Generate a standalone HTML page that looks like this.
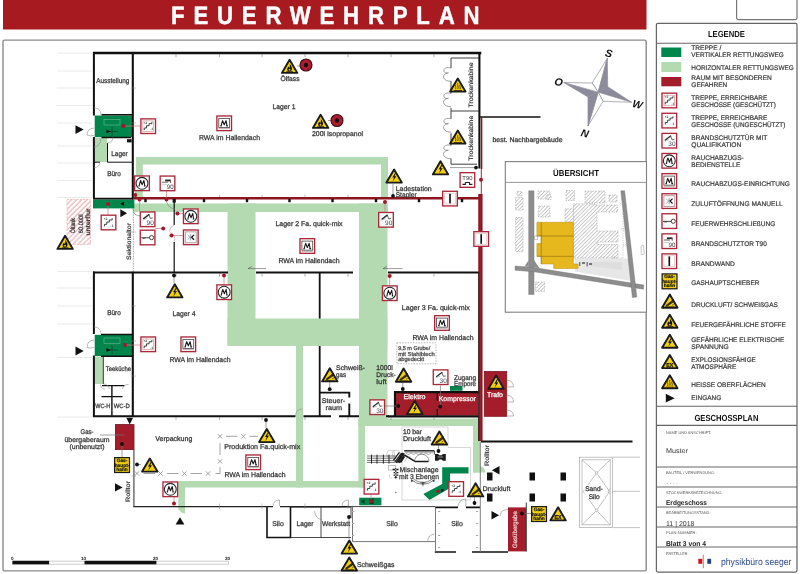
<!DOCTYPE html>
<html><head><meta charset="utf-8"><title>Feuerwehrplan</title>
<style>
html,body{margin:0;padding:0;background:#fff;}
body{width:800px;height:574px;overflow:hidden;font-family:"Liberation Sans", sans-serif;}
svg{display:block;font-family:"Liberation Sans", sans-serif;will-change:transform;}
text{text-rendering:geometricPrecision;}
</style></head><body>
<svg width="800" height="574" viewBox="0 0 800 574">
<defs>
<pattern id="hatchR" width="3.6" height="3.6" patternUnits="userSpaceOnUse" patternTransform="rotate(45)"><rect width="3.6" height="3.6" fill="#fff"/><line x1="1" y1="0" x2="1" y2="3.6" stroke="#dc8f98" stroke-width="0.85"/></pattern>
<pattern id="hatchG" width="2.6" height="2.6" patternUnits="userSpaceOnUse" patternTransform="rotate(45)"><rect width="2.6" height="2.6" fill="#fff"/><line x1="0" y1="0" x2="0" y2="2.6" stroke="#7d7d7d" stroke-width="0.8"/></pattern>

<g id="iStair"><g transform="scale(1.032)"><rect x="0.65" y="0.65" width="14.2" height="14.2" fill="#fff" stroke="#ab283a" stroke-width="1.3"/><polyline points="3.9,11.5 3.9,9.5 6.1,9.5 6.1,7.3 8.6,7.3 8.6,5.3 11.3,5.3 11.3,3.6" fill="none" stroke="#1f2e28" stroke-width="0.85"/><text x="4.9" y="5.6" font-size="3.3" text-anchor="middle" fill="#3a4a44" font-weight="bold">+2</text><text x="11.2" y="11.9" font-size="3.3" text-anchor="middle" fill="#3a4a44" font-weight="bold">-1</text></g></g>
<g id="iStairP"><g transform="scale(1.032)"><rect x="0.65" y="0.65" width="14.2" height="14.2" fill="#fff" stroke="#ab283a" stroke-width="1.3"/><rect x="2.6" y="2.6" width="10.3" height="10.3" fill="none" stroke="#c98a90" stroke-width="0.6"/><polyline points="3.9,11.5 3.9,9.5 6.1,9.5 6.1,7.3 8.6,7.3 8.6,5.3 11.3,5.3 11.3,3.6" fill="none" stroke="#1f2e28" stroke-width="0.85"/><text x="4.9" y="5.6" font-size="3.3" text-anchor="middle" fill="#3a4a44" font-weight="bold">+2</text><text x="11.2" y="11.9" font-size="3.3" text-anchor="middle" fill="#3a4a44" font-weight="bold">-1</text></g></g>
<g id="iRwaB"><g transform="scale(1.032)"><rect x="0.65" y="0.65" width="14.2" height="14.2" fill="#fff" stroke="#ab283a" stroke-width="1.3"/><circle cx="7.75" cy="7.75" r="5.75" fill="#fff" stroke="#222" stroke-width="1"/><path d="M4.3,10.4 H5.6 M5,10.4 C5.3,8.6 5.8,6.6 6.4,5 L7.9,9.2 L9.6,5 C9.9,6.6 10.2,8.6 10.4,10.4 M9.7,10.4 H11.2" fill="none" stroke="#1a1a1a" stroke-width="1.05" stroke-linejoin="round"/></g></g>
<g id="iRwaE"><g transform="scale(1.032)"><rect x="0.65" y="0.65" width="14.2" height="14.2" fill="#fff" stroke="#ab283a" stroke-width="1.3"/><rect x="2.5" y="3" width="10.5" height="8.8" fill="#fff" stroke="#4a4a4a" stroke-width="0.8"/><path d="M2.3,12.9 H13.2" stroke="#9a7a7e" stroke-width="0.6"/><path d="M4,10.3 H5.4 M4.8,10.3 C5.1,8.6 5.6,6.8 6.2,5.2 L7.8,9.2 L9.5,5.2 C9.9,6.8 10.2,8.6 10.4,10.3 M9.7,10.3 H11.4" fill="none" stroke="#1a1a1a" stroke-width="1.1" stroke-linejoin="round"/></g></g>
<g id="iZul"><g transform="scale(1.032)"><rect x="0.65" y="0.65" width="14.2" height="14.2" fill="#fff" stroke="#ab283a" stroke-width="1.3"/><rect x="2.5" y="2.5" width="10.5" height="10.5" fill="none" stroke="#b59a9c" stroke-width="0.9"/><path d="M7.6,4.6 V10.9 M4.8,5.6 L7,7.75 L4.8,9.9" fill="none" stroke="#6a7c8c" stroke-width="0.7"/><path d="M10.9,5.4 L8.5,7.75 L10.9,10.1" fill="none" stroke="#111" stroke-width="1.2"/></g></g>
<g id="iKey"><g transform="scale(1.032)"><rect x="0.65" y="0.65" width="14.2" height="14.2" fill="#fff" stroke="#ab283a" stroke-width="1.3"/><path d="M1.6,8 H10 M3.6,8 V9.3 M5,8 V9" fill="none" stroke="#333" stroke-width="0.9"/><circle cx="11.6" cy="7.9" r="2" fill="#fff" stroke="#333" stroke-width="0.9"/></g></g>
<g id="iD30"><g transform="scale(1.032)"><rect x="0.65" y="0.65" width="14.2" height="14.2" fill="#fff" stroke="#ab283a" stroke-width="1.3"/><path d="M3.9,7.1 L9,3.2" fill="none" stroke="#26332e" stroke-width="1.3" stroke-linecap="round"/><path d="M9,3.2 L10.4,6.9 L12.7,6.5" fill="none" stroke="#3a4640" stroke-width="0.8" stroke-linejoin="round"/><path d="M3.4,8.4 L7.6,6.6" stroke="#9aa3a0" stroke-width="0.6"/><text x="10.3" y="13.2" font-size="6.4" text-anchor="middle" fill="#3c4654" textLength="7" lengthAdjust="spacingAndGlyphs">30</text></g></g>
<g id="iD90"><g transform="scale(1.032)"><rect x="0.65" y="0.65" width="14.2" height="14.2" fill="#fff" stroke="#ab283a" stroke-width="1.3"/><path d="M3.9,7.1 L9,3.2" fill="none" stroke="#26332e" stroke-width="1.3" stroke-linecap="round"/><path d="M9,3.2 L10.4,6.9 L12.7,6.5" fill="none" stroke="#3a4640" stroke-width="0.8" stroke-linejoin="round"/><path d="M3.4,8.4 L7.6,6.6" stroke="#9aa3a0" stroke-width="0.6"/><text x="10.3" y="13.2" font-size="6.4" text-anchor="middle" fill="#3c4654" textLength="7" lengthAdjust="spacingAndGlyphs">90</text></g></g>
<g id="iT90"><g transform="scale(1.032)"><rect x="0.65" y="0.65" width="14.2" height="14.2" fill="#fff" stroke="#ab283a" stroke-width="1.3"/><path d="M5.4,4.9 H10.6" stroke="#222" stroke-width="1.7"/><path d="M10.6,4.2 V7.4 M2.6,6.6 H8.4" fill="none" stroke="#444" stroke-width="0.8"/><path d="M2.8,9 H7" stroke="#999" stroke-width="0.5"/><text x="10.3" y="13.1" font-size="6.2" text-anchor="middle" fill="#333" textLength="6.6" lengthAdjust="spacingAndGlyphs">90</text></g></g>
<g id="iT90b"><g transform="scale(1.032)"><rect x="0.65" y="0.65" width="14.2" height="14.2" fill="#fff" stroke="#ab283a" stroke-width="1.3"/><text x="7.75" y="7.6" font-size="5.6" text-anchor="middle" fill="#333" textLength="9.8" lengthAdjust="spacingAndGlyphs">T90</text><path d="M3,12 H5.8 V10.2 H9.8 V12 H12.6" fill="none" stroke="#222" stroke-width="1"/></g></g>
<g id="iBW"><g transform="scale(1.032)"><rect x="0.65" y="0.65" width="14.2" height="14.2" fill="#fff" stroke="#ab283a" stroke-width="1.3"/><rect x="2.5" y="2.5" width="10.5" height="10.5" fill="none" stroke="#d9b9bc" stroke-width="0.6"/><rect x="6.95" y="3.1" width="1.6" height="9.3" fill="#111"/></g></g>
<g id="iGas"><g transform="scale(1.032)"><rect x="0.6" y="0.6" width="14.4" height="14.4" fill="#f2cf0e" stroke="#1a1a1a" stroke-width="1.2"/><text font-size="4.7" font-weight="bold" text-anchor="middle" fill="#1a1a1a" stroke="#1a1a1a" stroke-width="0.2"><tspan x="7.8" y="5">Gas-</tspan><tspan x="7.8" y="9.3">haupt-</tspan><tspan x="7.8" y="13.6">hahn</tspan></text></g></g>
<g id="wEl"><path d="M8.8,1 L16.5,14.1 H1.1 Z" fill="#f2cf0e" stroke="#1a1a1a" stroke-width="1.9" stroke-linejoin="round"/><g transform="translate(0.55,0.35)"><path d="M9.2,4.1 L6.5,8.7 L8.2,8.7 L6.7,12.8 L10.4,7.5 L8.6,7.5 L10.1,4.1 Z" fill="#111"/></g></g>
<g id="wFl"><path d="M8.8,1 L16.5,14.1 H1.1 Z" fill="#f2cf0e" stroke="#1a1a1a" stroke-width="1.9" stroke-linejoin="round"/><g transform="translate(0.55,0.35)"><path d="M8.3,4.8 C10,6.6 10.9,8.4 10.6,10.1 C10.4,11.5 9.4,12.3 8.2,12.3 C6.9,12.3 5.8,11.4 5.8,10 C5.8,8.9 6.6,8.2 7.1,7.3 C7.5,8 7.6,8.4 7.8,8.8 C8.5,7.8 8.7,6.3 8.3,4.8 Z" fill="#111"/><circle cx="8.2" cy="10.6" r="0.9" fill="#e9c716"/><path d="M4.8,12.7 H11.7" stroke="#111" stroke-width="0.9"/></g></g>
<g id="wGas"><path d="M8.8,1 L16.5,14.1 H1.1 Z" fill="#f2cf0e" stroke="#1a1a1a" stroke-width="1.9" stroke-linejoin="round"/><g transform="translate(0.55,0.35)"><path d="M4.3,11.5 L10.4,6.7 L11.6,8.2 L5.5,12.4 Z" fill="#3a2c06" stroke="#111" stroke-width="0.5"/><path d="M10.8,6.6 L12.2,5.5" stroke="#111" stroke-width="1.1"/><path d="M3.6,12.9 H12.9" stroke="#111" stroke-width="0.6"/><path d="M10.6,11.2 l1.6,-0.6" stroke="#3a2c06" stroke-width="0.7"/></g></g>
<g id="wEx"><path d="M8.8,1 L16.5,14.1 H1.1 Z" fill="#f2cf0e" stroke="#1a1a1a" stroke-width="1.9" stroke-linejoin="round"/><g transform="translate(0.55,0.35)"><text x="8.25" y="12.7" font-size="5.8" font-weight="bold" text-anchor="middle" fill="#111" stroke="#111" stroke-width="0.25" textLength="7" lengthAdjust="spacingAndGlyphs">EX</text></g></g>
<g id="wHot"><path d="M8.8,1 L16.5,14.1 H1.1 Z" fill="#f2cf0e" stroke="#1a1a1a" stroke-width="1.9" stroke-linejoin="round"/><g transform="translate(0.55,0.35)"><path d="M6.1,6.8 c-0.9,1.5 0.9,2.5 0,4.6 M8.3,5.4 c-0.9,1.7 0.9,3 0,5.8 M10.5,6.8 c-0.9,1.5 0.9,2.5 0,4.6" fill="none" stroke="#5a4206" stroke-width="1"/><path d="M4.2,12.7 H12.4" stroke="#4a3806" stroke-width="1.1"/></g></g>
</defs>
<rect width="800" height="574" fill="#fff"/>
<rect x="3" y="0" width="643.5" height="29.5" fill="#a61a20"/>
<text transform="translate(325.3,0) scale(0.88,1)" x="0" y="23.9" font-size="25.2" font-weight="bold" fill="#fff" stroke="#fff" stroke-width="0.5" text-anchor="middle" textLength="350.5" lengthAdjust="spacing">FEUERWEHRPLAN</text>
<rect x="3" y="40.1" width="643.2" height="530.8" rx="1.5" fill="#fff" stroke="#8a8a8a" stroke-width="1.4"/>
<rect x="736.6" y="-3" width="60.4" height="22.6" rx="1.5" fill="#fff" stroke="#777" stroke-width="1.2"/>
<line x1="57" y1="53" x2="92" y2="53" stroke="#e4e4e4" stroke-width="0.8"/>
<line x1="57" y1="71" x2="92" y2="71" stroke="#e4e4e4" stroke-width="0.8"/>
<line x1="57" y1="88" x2="92" y2="88" stroke="#e4e4e4" stroke-width="0.8"/>
<line x1="57" y1="105.5" x2="92" y2="105.5" stroke="#e4e4e4" stroke-width="0.8"/>
<line x1="57" y1="123" x2="92" y2="123" stroke="#e4e4e4" stroke-width="0.8"/>
<line x1="57" y1="146" x2="92" y2="146" stroke="#e4e4e4" stroke-width="0.8"/>
<line x1="57" y1="163" x2="92" y2="163" stroke="#e4e4e4" stroke-width="0.8"/>
<line x1="57" y1="180.5" x2="92" y2="180.5" stroke="#e4e4e4" stroke-width="0.8"/>
<line x1="57" y1="197.5" x2="92" y2="197.5" stroke="#e4e4e4" stroke-width="0.8"/>
<line x1="57" y1="271.5" x2="92" y2="271.5" stroke="#e4e4e4" stroke-width="0.8"/>
<line x1="57" y1="288" x2="92" y2="288" stroke="#e4e4e4" stroke-width="0.8"/>
<line x1="57" y1="306" x2="92" y2="306" stroke="#e4e4e4" stroke-width="0.8"/>
<line x1="57" y1="324" x2="92" y2="324" stroke="#e4e4e4" stroke-width="0.8"/>
<line x1="57" y1="357.5" x2="92" y2="357.5" stroke="#e4e4e4" stroke-width="0.8"/>
<line x1="57" y1="417" x2="92" y2="417" stroke="#e4e4e4" stroke-width="0.8"/>
<rect x="136" y="157" width="252" height="7.5" fill="#b4dab1" />
<rect x="136" y="157" width="6.8" height="40" fill="#b4dab1" />
<rect x="381" y="157" width="7" height="40" fill="#b4dab1" />
<rect x="133.5" y="203.5" width="254.5" height="8.5" fill="#b4dab1" />
<rect x="227.5" y="203.5" width="28.0" height="142.5" fill="#b4dab1" />
<rect x="359" y="203.5" width="28.5" height="220.5" fill="#b4dab1" />
<rect x="227.5" y="318.5" width="160.0" height="27.5" fill="#b4dab1" />
<rect x="296" y="346" width="7" height="141.5" fill="#b4dab1" />
<rect x="178.4" y="481" width="186.6" height="6.5" fill="#b4dab1" />
<rect x="178.4" y="481" width="6.6" height="29" fill="#b4dab1" />
<path d="M178.4,506 q0.5,7 6.6,7.5 V506 Z" fill="#b4dab1"/>
<rect x="358.4" y="418.6" width="121.6" height="7.4" fill="#b4dab1" />
<rect x="358.4" y="418.6" width="6.6" height="68.9" fill="#b4dab1" />
<rect x="473" y="418.6" width="7" height="53.9" fill="#b4dab1" />
<path d="M473,466 V472.5 H485.5 q-0.5,-5.5 -5.5,-6.5 Z" fill="#b4dab1"/>
<rect x="94.7" y="138" width="12.3" height="24" fill="#b4dab1" />
<rect x="94.7" y="356.5" width="8.9" height="27.5" fill="#b4dab1" />
<path d="M296,416 q1,6 7,7 V416 Z" fill="#b4dab1"/>
<rect x="94.7" y="115.5" width="37.3" height="21.7" fill="#00854d" />
<rect x="93" y="199.5" width="41.3" height="8.9" fill="#00854d" />
<rect x="94.7" y="334.8" width="37.3" height="21.2" fill="#00854d" />
<rect x="359.2" y="497.7" width="22.2" height="7.6" fill="#00854d" />
<rect x="450" y="386" width="12.5" height="4.8" fill="#00854d" />
<path d="M442.2,467.3 H468.5 V473.5 H450 V488 L429.5,500 L423.3,494 L442.2,484 Z" fill="#00854d"/>
<g stroke="#7fc2a3" stroke-width="0.5" fill="none"><rect x="104" y="119.5" width="16" height="5.5"/><rect x="104" y="338" width="16" height="5.5"/></g>
<g stroke="#003d22" stroke-width="0.7" fill="none"><path d="M112,127 V136 M106,131.5 H118"/><path d="M112,345.5 V354.5 M106,350 H118"/></g>
<path d="M106.5,129.5 l4,2 l-4,2 Z M106.5,348 l4,2 l-4,2 Z M120,203.7 l4,-2 v4 Z" fill="#111"/>
<path d="M361,501.5 l3.5,-2.5 v5 Z M369.5,498.5 h4 v5.5 h-4 Z" fill="#0a2a1a" opacity="0.8"/>
<rect x="127" y="139.2" width="4.6" height="3.2" fill="#111"/>
<rect x="395" y="392" width="83" height="23.5" fill="#a31d2b" />
<rect x="484.3" y="371.5" width="22.4" height="44.8" fill="#a31d2b" stroke="#7c1420" stroke-width="0.8"/>
<rect x="115.4" y="424.6" width="18.6" height="25.0" fill="#a31d2b" stroke="#6e1019" stroke-width="0.8"/>
<rect x="508" y="507.4" width="18" height="44.0" fill="#a31d2b" />
<path d="M526.3,502.5 V551.6" stroke="#222" stroke-width="0.9"/>
<rect x="67" y="199.5" width="23.5" height="45" fill="url(#hatchR)" stroke="#e8aab0" stroke-width="0.7" stroke-dasharray="2 1.2"/>
<g stroke="#111" fill="none" stroke-linecap="butt">
<path d="M93,53 H481.3" stroke-width="2.3"/>
<path d="M93.9,52 V115.5 M93.9,137 V198" stroke-width="2"/>
<path d="M132.8,52 V199.5" stroke-width="2.1"/>
<path d="M479.4,52 V168.5" stroke-width="2.1"/>
<path d="M479.5,117 H540.5" stroke-width="1.7"/>
<path d="M101.5,114.8 H132 M101.5,137.6 H131" stroke-width="1.5"/>
<path d="M93,198.6 H133" stroke-width="1.8"/>
<path d="M107.5,143 V162.2 H132" stroke-width="1"/>
<path d="M93,162.2 H100" stroke-width="1"/>
<path d="M93.9,271.6 V334 M93.9,355.5 V417" stroke-width="2"/>
<path d="M132.8,271.7 V417" stroke-width="2.1"/>
<path d="M101,334.4 H132 M101,356.2 H132" stroke-width="1.5"/>
<path d="M93,272.5 H228 M256,272.5 H353 M388,272.5 H480" stroke-width="2.1"/>
<path d="M93,416.3 H295.5 M303.5,416.3 H331 M339,416.3 H359 M386,416.3 H389" stroke-width="2.1"/>
<path d="M111.9,385.5 V416 M101.5,396.6 H122.5 M102,385.6 H124.5" stroke-width="1.4"/>
<path d="M103.3,355.5 V384" stroke-width="0.8"/>
<path d="M174.2,199 V225 M174.2,242 V272" stroke-width="1.2"/>
<path d="M319.7,272 V318.5 M319.7,346 V416" stroke-width="1.8"/>
<path d="M319.7,392.6 H349.3 V397.6 M349.3,403.6 V416" stroke-width="1.9"/>
<path d="M394,392.2 H479 M395,391.2 V417 M388,416.3 H479" stroke-width="2.2"/>
<path d="M437.3,392 V401 M437.3,409 V416" stroke-width="1.3"/>
<path d="M481,441.5 H632.5" stroke-width="1.8"/>
<path d="M267,506.5 V537.5 H290.5 V506.5" stroke-width="1.6"/>
<path d="M290.5,506.8 H351" stroke-width="1.6"/>
<path d="M290.5,537.5 H351 M321,507 V537.5 M351,507 V518" stroke-width="0.9" stroke="#333"/>
<path d="M435,507.3 H458 M466,507.3 H480" stroke-width="1.8"/>
<path d="M434.8,552 H456 M472,552 H508" stroke-width="1.4"/>
</g>
<g stroke="#6f6f6f" fill="none" stroke-width="0.9">
<path d="M133.9,449.5 V506.6" stroke="#666" stroke-width="1.4"/><path d="M133.3,506.6 H273 M280,506.6 H342" stroke="#222" stroke-width="1.4"/><path d="M349,506.6 H435" stroke="#444" stroke-width="1"/>
<path d="M133.4,208.5 V271.5" stroke="#a8a8a8" stroke-width="1.1" stroke-dasharray="1 0.7"/>
<path d="M480.3,441.5 V552 M435.5,507.5 V552"/>
<path d="M352.5,507 V541.6 H435" stroke="#666" stroke-width="0.9"/>
<path d="M402,427 H448 V447.5 H470.5 V500 H402 Z" stroke="#bdbdbd" stroke-width="0.6"/>
<path d="M451,58 H479 M451,111 H479 M451,164.2 H477 M451,58 V68 M451,81 V93.4 M451,107.8 V118.8 M451,133.2 V145.4 M451,158.7 V164.2" stroke="#2a2a2a" stroke-width="0.9"/>
<path d="M451,68 c-4,-1.4 -8,0.6 -7,3.2 c0.6,2 3,2.2 4.4,1.6 c-4,0.6 -5.6,3 -4.6,5.2 c1,2.4 4.4,3.6 7.2,3.2 M451,93.4 c-4,-1.4 -8,0.6 -7,3.2 c0.6,2 3,2.2 4.4,1.6 c-4,0.6 -5.6,3 -4.6,5.2 c1,2.4 4.4,3.6 7.2,3.2 M451,118.8 c-4,-1.4 -8,0.6 -7,3.2 c0.6,2 3,2.2 4.4,1.6 c-4,0.6 -5.6,3 -4.6,5.2 c1,2.4 4.4,3.6 7.2,3.2 M451,145.4 c-4,-1.4 -8,0.6 -7,3.2 c0.6,2 3,2.2 4.4,1.6 c-4,0.6 -5.6,3 -4.6,5.2 c1,2.4 4.4,3.6 7.2,3.2" stroke="#777" stroke-width="0.7"/>
<path d="M94,108 q7,0 7,7 M94,147 q6.5,-0.5 7,-9 M107.5,143 q5,-0.5 5.5,-5.5 M100,162.2 q0,5 -6,5.5 M94,327 q6.5,0 7,6.5 M94,340 q-7,0.5 -7,7.5 q3,1 7,0 M94,128 q-7,0.5 -7,7 q3,1.5 7,0.5 M103.3,384 q5,0 6,5 M122.5,389 q1,-4.5 6,-4.5 M105,389 q-4,0 -4.5,-4.5 M295.5,416 q0,-7 7,-7" stroke="#8c8c8c" stroke-width="0.6"/>
<path d="M133,208 q-0.5,8 8,8 M166,199 q1,9 9,10" stroke="#5c8a6a" stroke-width="0.6"/>
<path d="M174.2,225 l-4,3 q-2,4 2,6 q4,1.5 2,7.5" stroke="#999" stroke-width="0.6"/>
<path d="M273,506 q0.5,-6 6.5,-6 v6 M342,506 q0.5,-6 6.5,-6 v6 M458,506.5 q0.5,-7 7.8,-7.5 v7.5 M314.6,511 q0.5,8 7.6,8.6 M427.6,541.5 q0.5,-7 7,-7.5 M506.5,380 q7,0.5 7,7 h-7 M506.5,395 q7,0.5 7,7 h-7 M506.5,410 q7,0.5 7,6 h-7 M500,516 q0.5,-6.5 8,-6.5" stroke="#8c8c8c" stroke-width="0.6"/>
</g>
<path d="M176,54 V57.2 M176,273.6 V276.6 M176,417 V420" stroke="#777" stroke-width="0.6"/>
<path d="M219.5,54 V57.2 M219.5,273.6 V276.6 M219.5,417 V420" stroke="#777" stroke-width="0.6"/>
<path d="M262,54 V57.2 M262,273.6 V276.6 M262,417 V420" stroke="#777" stroke-width="0.6"/>
<path d="M305,54 V57.2 M305,273.6 V276.6 M305,417 V420" stroke="#777" stroke-width="0.6"/>
<path d="M348,54 V57.2 M348,273.6 V276.6 M348,417 V420" stroke="#777" stroke-width="0.6"/>
<path d="M391,54 V57.2 M391,273.6 V276.6 M391,417 V420" stroke="#777" stroke-width="0.6"/>
<path d="M434,54 V57.2 M434,273.6 V276.6 M434,417 V420" stroke="#777" stroke-width="0.6"/>
<path d="M219.5,194.5 V197.5 M219.5,503.5 V509" stroke="#888" stroke-width="0.5"/>
<path d="M262,194.5 V197.5 M262,503.5 V509" stroke="#888" stroke-width="0.5"/>
<path d="M305,194.5 V197.5 M305,503.5 V509" stroke="#888" stroke-width="0.5"/>
<path d="M348,194.5 V197.5 M348,503.5 V509" stroke="#888" stroke-width="0.5"/>
<path d="M131,88 H136" stroke="#888" stroke-width="0.5"/>
<path d="M131,123 H136" stroke="#888" stroke-width="0.5"/>
<path d="M131,232 H136" stroke="#888" stroke-width="0.5"/>
<path d="M131,306 H136" stroke="#888" stroke-width="0.5"/>
<path d="M131,341 H136" stroke="#888" stroke-width="0.5"/>
<path d="M131,376 H136" stroke="#888" stroke-width="0.5"/>
<path d="M131,476 H136" stroke="#888" stroke-width="0.5"/>
<g stroke="#8e1420" fill="none">
<path d="M134,198.2 H481" stroke-width="2.4"/>
<path d="M480.4,194 V441" stroke-width="4.3"/><path d="M481.6,117.5 V169" stroke-width="1.5"/>
<path d="M481.3,168 V195" stroke-width="0.9"/>
</g>
<path d="M480.3,195 V440" stroke="#98222e" stroke-width="1" fill="none"/>
<path d="M478.6,272 V441 " stroke="#1a1a1a" stroke-width="0.7" fill="none"/>
<rect x="144.3" y="199" width="2.4" height="3.2" fill="#111"/>
<rect x="202.8" y="199" width="2.4" height="3.2" fill="#111"/>
<rect x="245.8" y="199" width="2.4" height="3.2" fill="#111"/>
<rect x="288.3" y="199" width="2.4" height="3.2" fill="#111"/>
<rect x="331.3" y="199" width="2.4" height="3.2" fill="#111"/>
<rect x="374.8" y="199" width="2.4" height="3.2" fill="#111"/>
<rect x="417.8" y="199" width="2.4" height="3.2" fill="#111"/>
<rect x="460.8" y="199" width="2.4" height="3.2" fill="#111"/>
<rect x="172.6" y="199" width="3.2" height="3.6" fill="#111"/>
<rect x="487" y="472.5" width="5.5" height="8" fill="#111"/>
<rect x="487" y="493.5" width="5.5" height="8" fill="#111"/>
<rect x="529.5" y="472.5" width="5.5" height="8" fill="#111"/>
<rect x="529.5" y="493.5" width="5.5" height="8" fill="#111"/>
<rect x="560.5" y="472.5" width="5.5" height="8" fill="#111"/>
<rect x="560.5" y="493.5" width="5.5" height="8" fill="#111"/>
<g stroke="#8c8c8c" stroke-width="0.8" fill="none"><path d="M226,436.3 H237.5 M249.5,436.3 H258 M220,443 V455 M220,467 V473.5 H215.5 M190.5,473.5 H202 M167,473.5 H178.5 M143.5,473.5 H155"/>
<path d="M134.8,471.3 l4.4,4.4 M134.8,475.7 l4.4,-4.4"/>
<path d="M158.3,471.3 l4.4,4.4 M158.3,475.7 l4.4,-4.4"/>
<path d="M182.20000000000002,471.3 l4.4,4.4 M182.20000000000002,475.7 l4.4,-4.4"/>
<path d="M205.8,471.3 l4.4,4.4 M205.8,475.7 l4.4,-4.4"/>
<path d="M217.8,459.2 l4.4,4.4 M217.8,463.59999999999997 l4.4,-4.4"/>
<path d="M217.8,434.1 l4.4,4.4 M217.8,438.5 l4.4,-4.4"/>
<path d="M241.20000000000002,434.1 l4.4,4.4 M241.20000000000002,438.5 l4.4,-4.4"/>
</g>
<rect x="396.8" y="342.8" width="39.2" height="21" fill="none" stroke="#8a8a8a" stroke-width="0.6" stroke-dasharray="1.5 1.2"/>
<g stroke="#a9a9a9" stroke-width="0.7" fill="none"><rect x="579.4" y="457.2" width="33.2" height="70.4"/><rect x="582" y="459.8" width="28.2" height="65"/><path d="M612.6,457.2 H640 M612.6,491.3 H640 M612.6,527.6 H640"/><path d="M582,459.8 L596.6,473 L610.2,459.8 M582,524.8 L596.6,510.4 L610.2,524.8 M596.6,473 L583.2,491.5 L596.6,510.4 L609.6,491.5 Z"/><circle cx="596.6" cy="473" r="1.3" fill="#fff"/><circle cx="596.6" cy="510.4" r="1.3" fill="#fff"/><path d="M610.2,488.6 q-4,2.8 0,5.8"/></g>
<g fill="#aaa"><rect x="352" y="511" width="2.2" height="1" /><rect x="352" y="523" width="2.2" height="1" /><rect x="352" y="535" width="2.2" height="1" /><rect x="352" y="547" width="2.2" height="1" /><rect x="438" y="511" width="2.2" height="1" /><rect x="438" y="523" width="2.2" height="1" /><rect x="438" y="535" width="2.2" height="1" /><rect x="438" y="547" width="2.2" height="1" /><rect x="476" y="511" width="2.2" height="1" /><rect x="476" y="523" width="2.2" height="1" /><rect x="476" y="535" width="2.2" height="1" /><rect x="476" y="547" width="2.2" height="1" /></g>
<g stroke="#555" stroke-width="0.6" fill="none"><path d="M266,268.6 H248 l4,-2.2 M402.5,268.6 H383 l4,-2.2"/></g>
<g stroke="#c77b83" stroke-width="0.7" fill="none">
<path d="M123.5,126 H140 M108,204 V215 M125,345 H140 M135.3,195 V191 M166.5,199.5 V191 M139.5,199.5 V211 M177.4,213.5 H183 M163.2,228.5 H155 M171.5,235.5 H183 M385,202 V211.5 M224,276 V284 M389.6,276 V285 M174,503 V497 M371,501 V494 M455,489 H460"/>
</g>
<g stroke="#777" stroke-width="0.7" fill="none">
<path d="M297,66 H300 M328,120.5 H331 M174,275.5 V283 M329.7,389 V382 M266,420 V428 M349,517 V539 M438.5,451 V445 M474.5,503 V497 M122,444 V457 M137,464.5 H141 M100,435 H124.5 M402.8,383 V389 M440.4,385.5 V406 M385,406 H398 M525.5,513.5 H531 M476,167.6 H450 M393,196 V184"/>
</g>
<circle cx="123.5" cy="126" r="2" fill="#a3172a"/>
<circle cx="108" cy="204" r="2" fill="#a3172a"/>
<circle cx="125" cy="345" r="2" fill="#a3172a"/>
<circle cx="135.3" cy="195" r="2" fill="#a3172a"/>
<circle cx="139.5" cy="199.5" r="2" fill="#a3172a"/>
<circle cx="166.5" cy="199.5" r="2" fill="#a3172a"/>
<circle cx="177.4" cy="213.5" r="2" fill="#a3172a"/>
<circle cx="163.2" cy="228.5" r="2" fill="#a3172a"/>
<circle cx="171.5" cy="235.5" r="2" fill="#a3172a"/>
<circle cx="385" cy="202" r="2" fill="#a3172a"/>
<circle cx="224" cy="275.5" r="2" fill="#a3172a"/>
<circle cx="389.6" cy="276" r="2" fill="#a3172a"/>
<circle cx="174" cy="503.4" r="2" fill="#a3172a"/>
<circle cx="371" cy="501.3" r="2" fill="#a3172a"/>
<circle cx="456" cy="489" r="2" fill="#a3172a"/>
<circle cx="481" cy="179.7" r="2" fill="#a3172a"/>
<circle cx="174" cy="275.5" r="1.9" fill="#111"/>
<circle cx="329.7" cy="389.2" r="1.9" fill="#111"/>
<circle cx="266" cy="420" r="1.9" fill="#111"/>
<circle cx="349" cy="517" r="1.9" fill="#111"/>
<circle cx="438.5" cy="451" r="1.9" fill="#111"/>
<circle cx="474.5" cy="503" r="1.9" fill="#111"/>
<circle cx="122" cy="444" r="1.9" fill="#111"/>
<circle cx="137" cy="464.5" r="1.9" fill="#111"/>
<circle cx="393" cy="196" r="1.9" fill="#111"/>
<circle cx="476" cy="167.6" r="1.9" fill="#111"/>
<circle cx="402.8" cy="389" r="1.9" fill="#111"/>
<circle cx="398.2" cy="406" r="1.9" fill="#111"/>
<circle cx="440.2" cy="406.6" r="1.9" fill="#111"/>
<circle cx="522" cy="513.5" r="1.9" fill="#111"/>
<circle cx="306" cy="65" r="6" fill="#ad1c31" stroke="#3d0c14" stroke-width="1.1"/><circle cx="306" cy="65" r="2.2" fill="#111"/>
<circle cx="337" cy="120.5" r="6" fill="#ad1c31" stroke="#3d0c14" stroke-width="1.1"/><circle cx="337" cy="120.5" r="2.2" fill="#111"/>
<use href="#iStairP" x="140.2" y="118.2" />
<use href="#iStair" x="100.5" y="214.5" />
<use href="#iStairP" x="140.2" y="336.3" />
<use href="#iStair" x="363.5" y="478.7" />
<use href="#iStair" x="448.2" y="481" />
<use href="#iRwaB" x="134" y="175.3" />
<use href="#iT90" x="159.5" y="175.4" />
<use href="#iD90" x="139.6" y="211.3" />
<use href="#iKey" x="139.6" y="229.5" />
<use href="#iRwaB" x="182.8" y="208.3" />
<use href="#iZul" x="182.8" y="229.3" />
<use href="#iD90" x="378" y="211.8" />
<use href="#iRwaE" x="216.2" y="115.3" />
<use href="#iRwaE" x="299.3" y="238" />
<use href="#iRwaE" x="434" y="315" />
<use href="#iRwaE" x="180.3" y="336.3" />
<use href="#iRwaE" x="245.2" y="454.3" />
<use href="#iRwaB" x="216.2" y="284.2" />
<use href="#iRwaB" x="381.8" y="285.2" />
<use href="#iRwaB" x="162.3" y="481.3" />
<use href="#iD30" x="432.6" y="369.2" />
<use href="#iD30" x="369.2" y="399.2" />
<use href="#iT90b" x="459.4" y="172" />
<use href="#iBW" x="442" y="190.6" />
<use href="#iBW" x="473.2" y="231" />
<use href="#iGas" x="114" y="457" />
<use href="#iGas" x="531" y="506" />
<use href="#wFl" x="280.8" y="58.8" />
<use href="#wFl" x="311.8" y="113.8" />
<use href="#wFl" x="56.3" y="234.8" />
<use href="#wHot" x="449" y="77.5" />
<use href="#wHot" x="449" y="129.5" />
<use href="#wEl" x="431.7" y="160.3" />
<use href="#wEl" x="385.3" y="168.5" />
<use href="#wEl" x="166" y="283.3" />
<use href="#wEl" x="258" y="428" />
<use href="#wEl" x="141" y="457.5" />
<use href="#wEl" x="406" y="400" />
<use href="#wEl" x="487.3" y="374.6" />
<use href="#wEl" x="340.5" y="539.5" />
<use href="#wGas" x="321" y="367.3" />
<use href="#wGas" x="394.8" y="367.6" />
<use href="#wGas" x="430.6" y="430.5" />
<use href="#wGas" x="466.8" y="482.3" />
<use href="#wGas" x="340.5" y="556.5" />
<use href="#wEx" x="549.3" y="506.3" />
<g fill="#111">
<path d="M75.5,125.2 l8.2,4.4 l-8.2,4.4 Z"/>
<path d="M120.3,209.2 l6.8,4 l-6.8,4 Z"/>
<path d="M75.5,346.6 l8.2,4.4 l-8.2,4.4 Z"/>
<path d="M126.3,417.8 h6.8 l-3.4,6.6 Z"/>
<path d="M115,483.2 l7.6,4.2 l-7.6,4.2 Z"/>
<path d="M175.6,524.6 h8.8 l-4.4,-7.4 Z"/>
<path d="M499.5,466 l-7.6,4.2 l7.6,4.2 Z"/>
<path d="M491.5,511 l7.6,4.2 l-7.6,4.2 Z"/>
</g>
<circle cx="390.7" cy="454" r="4" fill="none" stroke="#b5b5b5" stroke-width="0.6"/><circle cx="396.2" cy="454" r="4" fill="none" stroke="#b5b5b5" stroke-width="0.6"/>
<g stroke="#1a1a1a" fill="none" stroke-width="0.6">
<path d="M367,456 H396 M367,458.2 H396 M367,460.4 H396 M367,462.4 H394"/>
<path d="M371.5,454.6 V463.6 M377,454.6 V463.6 M383.4,454.6 V463.6 M389,454.6 V463.6" stroke-width="0.9"/>
<path d="M394.5,462.5 l7,-9.5 M396,462.8 l7,-10 M397.6,462.8 l6.6,-9.6 M399.2,462.8 l5.4,-8 M393.4,460.4 l6,-8 M400.6,462.6 l4,-6" stroke-width="1.2"/>
<path d="M404.2,450.8 H434.4" stroke-width="1.4"/><path d="M405,452.6 H433.6" stroke="#666" stroke-width="0.5"/>
<path d="M406,452.8 q2.5,3.4 5,0 q2.5,3.4 5,0 q2.5,3.4 5,0 q2.5,3.4 5,0 q2.5,3.4 5,0" stroke="#555" stroke-width="0.5"/>
<path d="M404.4,455 L415,461.4 H428.6" stroke-width="1.5" stroke-linejoin="round"/>
<path d="M414.6,461.4 A7.2,7.2 0 0 1 429,461.4" stroke="#555" stroke-width="0.6"/>
<path d="M404.5,461.8 q2,-5 6,-5.4" stroke="#777" stroke-width="0.5"/>
<path d="M434.4,451 V454.5" stroke-width="0.8"/>
<path d="M411,479.6 q12,9.6 23.6,0 M413.6,479.2 q9.4,6.6 18.6,0 M422.9,481.6 V486.4" stroke="#333" stroke-width="0.6"/>
<path d="M411,479.6 l0.4,2.6 l2,-1.4 Z M434.6,479.6 l-0.4,2.6 l-2,-1.4 Z M419.6,482.4 h6.6 l-3.3,1.6 Z" fill="#333" stroke="none"/>
</g>
<path d="M435,454 h3.2 l1,1.2 h2.6 l1,-1.2 h3 v6.8 h-3 l-1,-1.2 h-2.6 l-1,1.2 h-3.2 Z" fill="#1c1c1c"/><rect x="437.6" y="456.2" width="5.4" height="1.6" fill="#666"/>
<rect x="388.6" y="465.4" width="7" height="4.6" fill="none" stroke="#999" stroke-width="0.6"/><path d="M389.6,474.5 q-1,3 2,4" fill="none" stroke="#aaa" stroke-width="0.5"/>
<path d="M392.6,468.8 h6 v1.4 h-6 Z M393.6,472 h4.8 v1.2 h-4.8 Z M393.6,474.6 h4.8 v1.2 h-4.8 Z M395.2,468 v9.6 h1.2 v-9.6 Z M394,477 l1.8,1.8 l1.8,-1.8 Z" fill="#1c1c1c"/>
<circle cx="395.8" cy="492.5" r="0.7" fill="#666"/>
<circle cx="438" cy="491.2" r="1.7" fill="#a3172a"/><path d="M440.6,489 l3.6,0.6 l-2.6,2.8 Z" fill="#111"/>
<text x="112.8" y="83" font-size="7.0" text-anchor="middle" font-weight="normal" fill="#363636" stroke="#363636" stroke-width="0.26" textLength="33" lengthAdjust="spacingAndGlyphs" >Ausstellung</text>
<text x="119.5" y="155.7" font-size="7.0" text-anchor="middle" font-weight="normal" fill="#363636" stroke="#363636" stroke-width="0.26" textLength="16.5" lengthAdjust="spacingAndGlyphs" >Lager</text>
<text x="114" y="176.3" font-size="7.0" text-anchor="middle" font-weight="normal" fill="#363636" stroke="#363636" stroke-width="0.26" textLength="13.5" lengthAdjust="spacingAndGlyphs" >Büro</text>
<text x="114" y="314.7" font-size="7.0" text-anchor="middle" font-weight="normal" fill="#363636" stroke="#363636" stroke-width="0.26" textLength="13.5" lengthAdjust="spacingAndGlyphs" >Büro</text>
<text x="118.4" y="370.8" font-size="6.6" text-anchor="middle" font-weight="normal" fill="#363636" stroke="#363636" stroke-width="0.26" textLength="25.3" lengthAdjust="spacingAndGlyphs" >Teeküche</text>
<text x="102.7" y="407.8" font-size="6.2" text-anchor="middle" font-weight="normal" fill="#363636" stroke="#363636" stroke-width="0.26" textLength="15" lengthAdjust="spacingAndGlyphs" >WC-H</text>
<text x="121.8" y="407.8" font-size="6.2" text-anchor="middle" font-weight="normal" fill="#363636" stroke="#363636" stroke-width="0.26" textLength="16" lengthAdjust="spacingAndGlyphs" >WC-D</text>
<text x="284" y="108.6" font-size="7.0" text-anchor="middle" font-weight="normal" fill="#363636" stroke="#363636" stroke-width="0.26" textLength="23" lengthAdjust="spacingAndGlyphs" >Lager 1</text>
<text x="229.5" y="140" font-size="7.0" text-anchor="middle" font-weight="normal" fill="#363636" stroke="#363636" stroke-width="0.26" textLength="61" lengthAdjust="spacingAndGlyphs" >RWA im Hallendach</text>
<text x="290" y="81.3" font-size="6.8" text-anchor="middle" font-weight="normal" fill="#363636" stroke="#363636" stroke-width="0.26" textLength="19" lengthAdjust="spacingAndGlyphs" >Ölfass</text>
<text x="337.5" y="135.5" font-size="6.8" text-anchor="middle" font-weight="normal" fill="#363636" stroke="#363636" stroke-width="0.26" textLength="51" lengthAdjust="spacingAndGlyphs" >200l Isopropanol</text>
<text x="527.5" y="141.8" font-size="6.8" text-anchor="middle" font-weight="normal" fill="#363636" stroke="#363636" stroke-width="0.26" textLength="70" lengthAdjust="spacingAndGlyphs" >best. Nachbargebäude</text>
<text x="309" y="226.3" font-size="7.0" text-anchor="middle" font-weight="normal" fill="#363636" stroke="#363636" stroke-width="0.26" textLength="67" lengthAdjust="spacingAndGlyphs" >Lager 2 Fa. quick-mix</text>
<text x="309" y="263.2" font-size="7.0" text-anchor="middle" font-weight="normal" fill="#363636" stroke="#363636" stroke-width="0.26" textLength="61" lengthAdjust="spacingAndGlyphs" >RWA im Hallendach</text>
<text x="184" y="315.8" font-size="7.0" text-anchor="middle" font-weight="normal" fill="#363636" stroke="#363636" stroke-width="0.26" textLength="23" lengthAdjust="spacingAndGlyphs" >Lager 4</text>
<text x="200" y="362.2" font-size="7.0" text-anchor="middle" font-weight="normal" fill="#363636" stroke="#363636" stroke-width="0.26" textLength="61" lengthAdjust="spacingAndGlyphs" >RWA im Hallendach</text>
<text x="435.8" y="309.8" font-size="7.0" text-anchor="middle" font-weight="normal" fill="#363636" stroke="#363636" stroke-width="0.26" textLength="68" lengthAdjust="spacingAndGlyphs" >Lager 3 Fa. quick-mix</text>
<text x="443" y="340.3" font-size="7.0" text-anchor="middle" font-weight="normal" fill="#363636" stroke="#363636" stroke-width="0.26" textLength="61" lengthAdjust="spacingAndGlyphs" >RWA im Hallendach</text>
<text x="398.2" y="350.2" font-size="5.7" text-anchor="start" font-weight="normal" fill="#444" stroke="#444" stroke-width="0.26" textLength="32" lengthAdjust="spacingAndGlyphs" >9,5 m Grube/</text>
<text x="398.2" y="355.8" font-size="5.7" text-anchor="start" font-weight="normal" fill="#444" stroke="#444" stroke-width="0.26" textLength="36.5" lengthAdjust="spacingAndGlyphs" >mit Stahlblech</text>
<text x="398.2" y="361.4" font-size="5.7" text-anchor="start" font-weight="normal" fill="#444" stroke="#444" stroke-width="0.26" textLength="26" lengthAdjust="spacingAndGlyphs" >abgedeckt</text>
<text x="465" y="379.6" font-size="6.8" text-anchor="middle" font-weight="normal" fill="#363636" stroke="#363636" stroke-width="0.26" textLength="22" lengthAdjust="spacingAndGlyphs" >Zugang</text>
<text x="465" y="386" font-size="6.8" text-anchor="middle" font-weight="normal" fill="#363636" stroke="#363636" stroke-width="0.26" textLength="22" lengthAdjust="spacingAndGlyphs" >Empore</text>
<text x="414.5" y="399.2" font-size="6.8" text-anchor="middle" font-weight="normal" fill="#fff" stroke="#fff" stroke-width="0.26" textLength="22" lengthAdjust="spacingAndGlyphs" >Elektro</text>
<text x="457.3" y="400.6" font-size="6.8" text-anchor="middle" font-weight="normal" fill="#fff" stroke="#fff" stroke-width="0.26" textLength="37" lengthAdjust="spacingAndGlyphs" >Kompressor</text>
<text x="495" y="397.3" font-size="6.8" text-anchor="middle" font-weight="normal" fill="#fff" stroke="#fff" stroke-width="0.26" textLength="16" lengthAdjust="spacingAndGlyphs" >Trafo</text>
<text x="336" y="369.8" font-size="6.8" text-anchor="start" font-weight="normal" fill="#363636" stroke="#363636" stroke-width="0.26" textLength="29" lengthAdjust="spacingAndGlyphs" >Schweiß-</text>
<text x="336" y="377.3" font-size="6.8" text-anchor="start" font-weight="normal" fill="#363636" stroke="#363636" stroke-width="0.26" textLength="10" lengthAdjust="spacingAndGlyphs" >gas</text>
<text x="376.3" y="369.8" font-size="6.8" text-anchor="start" font-weight="normal" fill="#363636" stroke="#363636" stroke-width="0.26" textLength="16.5" lengthAdjust="spacingAndGlyphs" >1000l</text>
<text x="376.3" y="377" font-size="6.8" text-anchor="start" font-weight="normal" fill="#363636" stroke="#363636" stroke-width="0.26" textLength="19.5" lengthAdjust="spacingAndGlyphs" >Druck-</text>
<text x="376.3" y="384.2" font-size="6.8" text-anchor="start" font-weight="normal" fill="#363636" stroke="#363636" stroke-width="0.26" textLength="10.5" lengthAdjust="spacingAndGlyphs" >luft</text>
<text x="333.5" y="403" font-size="6.8" text-anchor="middle" font-weight="normal" fill="#363636" stroke="#363636" stroke-width="0.26" textLength="23.5" lengthAdjust="spacingAndGlyphs" >Steuer-</text>
<text x="333.8" y="410" font-size="6.8" text-anchor="middle" font-weight="normal" fill="#363636" stroke="#363636" stroke-width="0.26" textLength="16.5" lengthAdjust="spacingAndGlyphs" >raum</text>
<text x="413.7" y="190.8" font-size="6.8" text-anchor="middle" font-weight="normal" fill="#363636" stroke="#363636" stroke-width="0.26" textLength="36" lengthAdjust="spacingAndGlyphs" >Ladestation</text>
<text x="406.2" y="196.8" font-size="6.8" text-anchor="middle" font-weight="normal" fill="#363636" stroke="#363636" stroke-width="0.26" textLength="21" lengthAdjust="spacingAndGlyphs" >Stapler</text>
<text x="87" y="434.2" font-size="6.8" text-anchor="middle" font-weight="normal" fill="#363636" stroke="#363636" stroke-width="0.26" textLength="13" lengthAdjust="spacingAndGlyphs" >Gas-</text>
<text x="87" y="441.7" font-size="6.8" text-anchor="middle" font-weight="normal" fill="#363636" stroke="#363636" stroke-width="0.26" textLength="45" lengthAdjust="spacingAndGlyphs" >übergaberaum</text>
<text x="87" y="448.7" font-size="6.8" text-anchor="middle" font-weight="normal" fill="#363636" stroke="#363636" stroke-width="0.26" textLength="35" lengthAdjust="spacingAndGlyphs" >(unbenutzt)</text>
<text x="173.8" y="440.6" font-size="7.0" text-anchor="middle" font-weight="normal" fill="#363636" stroke="#363636" stroke-width="0.26" textLength="37" lengthAdjust="spacingAndGlyphs" >Verpackung</text>
<text x="262.2" y="448.7" font-size="7.0" text-anchor="middle" font-weight="normal" fill="#363636" stroke="#363636" stroke-width="0.26" textLength="76" lengthAdjust="spacingAndGlyphs" >Produktion Fa.quick-mix</text>
<text x="255" y="477.3" font-size="7.0" text-anchor="middle" font-weight="normal" fill="#363636" stroke="#363636" stroke-width="0.26" textLength="61" lengthAdjust="spacingAndGlyphs" >RWA im Hallendach</text>
<text x="403" y="433.8" font-size="6.8" text-anchor="start" font-weight="normal" fill="#363636" stroke="#363636" stroke-width="0.26" textLength="19" lengthAdjust="spacingAndGlyphs" >10 bar</text>
<text x="403" y="440.8" font-size="6.8" text-anchor="start" font-weight="normal" fill="#363636" stroke="#363636" stroke-width="0.26" textLength="28" lengthAdjust="spacingAndGlyphs" >Druckluft</text>
<text x="419" y="471.6" font-size="7.0" text-anchor="middle" font-weight="normal" fill="#363636" stroke="#363636" stroke-width="0.26" textLength="39" lengthAdjust="spacingAndGlyphs" >Mischanlage</text>
<text x="419" y="478.8" font-size="7.0" text-anchor="middle" font-weight="normal" fill="#363636" stroke="#363636" stroke-width="0.26" textLength="40" lengthAdjust="spacingAndGlyphs" >mit 3 Ebenen</text>
<text x="482.5" y="491.3" font-size="6.8" text-anchor="start" font-weight="normal" fill="#363636" stroke="#363636" stroke-width="0.26" textLength="28" lengthAdjust="spacingAndGlyphs" >Druckluft</text>
<text x="278" y="526.3" font-size="7.0" text-anchor="middle" font-weight="normal" fill="#363636" stroke="#363636" stroke-width="0.26" textLength="11.5" lengthAdjust="spacingAndGlyphs" >Silo</text>
<text x="305" y="526.3" font-size="7.0" text-anchor="middle" font-weight="normal" fill="#363636" stroke="#363636" stroke-width="0.26" textLength="17" lengthAdjust="spacingAndGlyphs" >Lager</text>
<text x="336" y="526.3" font-size="6.8" text-anchor="middle" font-weight="normal" fill="#363636" stroke="#363636" stroke-width="0.26" textLength="28" lengthAdjust="spacingAndGlyphs" >Werkstatt</text>
<text x="392" y="526.3" font-size="7.0" text-anchor="middle" font-weight="normal" fill="#363636" stroke="#363636" stroke-width="0.26" textLength="11.5" lengthAdjust="spacingAndGlyphs" >Silo</text>
<text x="457" y="526.3" font-size="7.0" text-anchor="middle" font-weight="normal" fill="#363636" stroke="#363636" stroke-width="0.26" textLength="11.5" lengthAdjust="spacingAndGlyphs" >Silo</text>
<rect x="584.5" y="485" width="20.5" height="14" fill="#fff" opacity="0.85"/>
<text x="594" y="491.2" font-size="6.8" text-anchor="middle" font-weight="normal" fill="#363636" stroke="#363636" stroke-width="0.26" textLength="17.5" lengthAdjust="spacingAndGlyphs" >Sand-</text>
<text x="594.2" y="498.6" font-size="6.8" text-anchor="middle" font-weight="normal" fill="#363636" stroke="#363636" stroke-width="0.26" textLength="11" lengthAdjust="spacingAndGlyphs" >Silo</text>
<text x="357" y="566.9" font-size="7.0" text-anchor="start" font-weight="normal" fill="#363636" stroke="#363636" stroke-width="0.26" textLength="37.5" lengthAdjust="spacingAndGlyphs" >Schweißgas</text>
<text transform="translate(131.2,241.5) rotate(-90)" font-size="6.3" text-anchor="middle" fill="#363636" stroke="#363636" stroke-width="0.2" textLength="37" lengthAdjust="spacingAndGlyphs">Sektionaltor</text>
<text transform="translate(129.7,491.5) rotate(-90)" font-size="6.3" text-anchor="middle" fill="#363636" stroke="#363636" stroke-width="0.2" textLength="21" lengthAdjust="spacingAndGlyphs">Rolltor</text>
<text transform="translate(489,455.5) rotate(-90)" font-size="6.3" text-anchor="middle" fill="#363636" stroke="#363636" stroke-width="0.2" textLength="21" lengthAdjust="spacingAndGlyphs">Rolltor</text>
<text transform="translate(473.4,85) rotate(-90)" font-size="6.4" text-anchor="middle" fill="#363636" stroke="#363636" stroke-width="0.2" textLength="45" lengthAdjust="spacingAndGlyphs">Trockenkabine</text>
<text transform="translate(473.4,138.2) rotate(-90)" font-size="6.4" text-anchor="middle" fill="#363636" stroke="#363636" stroke-width="0.2" textLength="45" lengthAdjust="spacingAndGlyphs">Trockenkabine</text>
<text transform="translate(516.6,529.6) rotate(-90)" font-size="6.3" text-anchor="middle" fill="#f3cfd3" stroke="#f3cfd3" stroke-width="0.2" textLength="37" lengthAdjust="spacingAndGlyphs">Gasübergabe</text>
<text transform="translate(75,233.2) rotate(-90)" font-size="6.3" fill="#262626" stroke="#262626" stroke-width="0.2" textLength="15" lengthAdjust="spacingAndGlyphs">Öltank</text>
<text transform="translate(83.2,233.2) rotate(-90)" font-size="6.3" fill="#262626" stroke="#262626" stroke-width="0.2" textLength="18.6" lengthAdjust="spacingAndGlyphs">60.000l</text>
<text transform="translate(89.8,235.6) rotate(-90)" font-size="6.3" fill="#262626" stroke="#262626" stroke-width="0.2" textLength="27.2" lengthAdjust="spacingAndGlyphs">unterflur</text>
<rect x="12.6" y="561.1" width="215.8" height="3" fill="#fff" stroke="#999" stroke-width="0.5"/>
<rect x="12.5" y="560.8" width="36.6" height="3.5" fill="#111"/><rect x="84.5" y="560.8" width="71.9" height="3.5" fill="#111"/>
<text x="12.3" y="559.8" font-size="4.6" font-weight="bold" text-anchor="middle" fill="#222">0</text>
<text x="83.6" y="559.8" font-size="4.6" font-weight="bold" text-anchor="middle" fill="#222">10</text>
<text x="155.6" y="559.8" font-size="4.6" font-weight="bold" text-anchor="middle" fill="#222">20</text>
<text x="227.6" y="559.8" font-size="4.6" font-weight="bold" text-anchor="middle" fill="#222">30</text>
<path d="M607.3,58.3 L592.2,83 L598.2,92.2 Z" fill="#fff" stroke="#8e8e98" stroke-width="0.7" stroke-linejoin="round"/>
<path d="M607.3,58.3 L607.7,86.7 L598.2,92.2 Z" fill="#8b8b9b" stroke="#8e8e98" stroke-width="0.7" stroke-linejoin="round"/>
<path d="M631.5,102.2 L607.7,86.7 L598.2,92.2 Z" fill="#8b8b9b" stroke="#8e8e98" stroke-width="0.7" stroke-linejoin="round"/>
<path d="M631.5,102.2 L603,101.3 L598.2,92.2 Z" fill="#fff" stroke="#8e8e98" stroke-width="0.7" stroke-linejoin="round"/>
<path d="M588,126 L603,101.3 L598.2,92.2 Z" fill="#fff" stroke="#8e8e98" stroke-width="0.7" stroke-linejoin="round"/>
<path d="M588,126 L588,97 L598.2,92.2 Z" fill="#8b8b9b" stroke="#8e8e98" stroke-width="0.7" stroke-linejoin="round"/>
<path d="M563.8,82.5 L588,97 L598.2,92.2 Z" fill="#8b8b9b" stroke="#8e8e98" stroke-width="0.7" stroke-linejoin="round"/>
<path d="M563.8,82.5 L592.2,83 L598.2,92.2 Z" fill="#fff" stroke="#8e8e98" stroke-width="0.7" stroke-linejoin="round"/>
<text x="609" y="57" font-size="10.6" font-style="italic" font-weight="bold" text-anchor="middle" fill="#111" transform="rotate(14 609 53)">S</text>
<text x="558.6" y="85.7" font-size="10.6" font-style="italic" font-weight="bold" text-anchor="middle" fill="#111" transform="rotate(14 558.6 81.7)">O</text>
<text x="637.5" y="108" font-size="10.6" font-style="italic" font-weight="bold" text-anchor="middle" fill="#111" transform="rotate(14 637.5 104)">W</text>
<text x="585" y="137" font-size="10.6" font-style="italic" font-weight="bold" text-anchor="middle" fill="#111" transform="rotate(14 585 133)">N</text>
<rect x="505.3" y="161.6" width="141.2" height="150.6" fill="#fff" stroke="#808080" stroke-width="1.1"/>
<path d="M505.3,182.4 H646.5" stroke="#8c8c8c" stroke-width="0.9"/>
<text x="576" y="175.8" font-size="8.6" font-weight="bold" text-anchor="middle" fill="#111" textLength="46" lengthAdjust="spacingAndGlyphs">ÜBERSICHT</text>
<path d="M575,258.5 H629 L632,281 L575,271.5 Z" fill="#e7e7e7"/><path d="M590,262 H622 V270 L590,266 Z" fill="#dedede"/>
<g fill="url(#hatchG)" stroke="#9a9a9a" stroke-width="0.5" stroke-dasharray="1.6 1">
<rect x="515.6" y="197.6" width="7.4" height="12.4"/>
<rect x="515.6" y="217.5" width="7.4" height="34.1"/>
<rect x="538" y="191" width="12" height="8"/>
<rect x="538.5" y="206" width="11.5" height="11"/>
<rect x="566" y="190.5" width="8.5" height="10.0"/>
<rect x="585" y="191" width="20" height="12"/>
<rect x="609" y="195" width="8" height="7"/>
<rect x="535.5" y="282" width="9.1" height="9.4"/>
<rect x="517" y="191.5" width="5" height="4.5"/>
<rect x="547" y="195" width="4" height="4.5"/>
<path d="M573.4,203.8 H595 V205 H617.5 V212 H597 V231 H618 V242 H597 V244.5 H618 V258 H573.4 Z"/>
<path d="M565,208.8 H573.4 V222.3 H565 Z"/>
</g>
<g fill="#8d8d8d" stroke="#6f6f6f" stroke-width="0.4">
<path d="M528.7,190.8 H534 V294.5 H528.7 Z"/>
<path d="M515,266 L534,267.6 L643.8,285 L643.4,289.2 L534,271.8 L515,270.2 Z"/>
<path d="M620.8,190.8 L624.6,190.8 L636.8,297 L632.4,297.5 Z"/>
</g>
<path d="M528.7,260 L528.7,266.8 L524.5,266.5 Z M534,260 V267.3 L539.5,268.2 Z" fill="#8d8d8d"/>
<path d="M541.2,222.3 H573.4 V264 H578 V268.5 H553.7 V264 H541.2 V256.3 H536.9 V243.6 H541.2 V236 H536.9 V222.3 Z" fill="#e7b71e" stroke="#b58e10" stroke-width="0.5"/>
<path d="M541.2,222.3 V264 M536.9,236 H573.4 M536.9,256.3 H573.4" stroke="#8a6a08" stroke-width="0.6" fill="none"/>
<g fill="#777"><rect x="579" y="262" width="1.4" height="4"/><rect x="582" y="262" width="3" height="2"/><rect x="586.5" y="262" width="1.4" height="4.4"/><rect x="589" y="263" width="3" height="2"/></g>
<g stroke="#9a9a9a" stroke-width="0.5" fill="none"><path d="M620,203 l3,3 m0,-3 l-3,3 M621,228 l3,3 m0,-3 l-3,3 M623,244 l3,3 m0,-3 l-3,3 M612,256 l3,3 m0,-3 l-3,3 M623,204 V258 H612" stroke-dasharray="1.2 1.2"/><path d="M641,246 l2.5,-1 l0.8,9 l-3,1 Z M534.5,236 h3 v3.5 h-3 Z"/></g>
<rect x="656.4" y="23.4" width="140.6" height="548.6" rx="1.5" fill="#fff" stroke="#666" stroke-width="1.25"/>
<path d="M656.4,43.2 H797" stroke="#666" stroke-width="1.15"/>
<path d="M656.4,406.2 H797" stroke="#666" stroke-width="1.15"/>
<path d="M656.4,425.4 H797" stroke="#666" stroke-width="1.15"/>
<path d="M656.4,467 H797" stroke="#666" stroke-width="1.15"/>
<path d="M656.4,487 H797" stroke="#666" stroke-width="1.15"/>
<path d="M656.4,507 H797" stroke="#666" stroke-width="1.15"/>
<path d="M656.4,527 H797" stroke="#666" stroke-width="1.15"/>
<path d="M656.4,547 H797" stroke="#666" stroke-width="1.15"/>
<text x="726.4" y="37.3" font-size="8.8" font-weight="bold" text-anchor="middle" fill="#111" textLength="37" lengthAdjust="spacingAndGlyphs">LEGENDE</text>
<text x="726.4" y="421" font-size="8.8" font-weight="bold" text-anchor="middle" fill="#111" textLength="64" lengthAdjust="spacingAndGlyphs">GESCHOSSPLAN</text>
<rect x="661.3" y="47.5" width="20.0" height="9.5" fill="#00854d" />
<rect x="661.3" y="62" width="20.0" height="10" fill="#b4dab1" />
<rect x="661.3" y="77" width="20.0" height="9.3" fill="#a31d2b" />
<text x="691.3" y="50.4" font-size="6.7" fill="#3a3a3a" stroke="#3a3a3a" stroke-width="0.2" textLength="30" lengthAdjust="spacingAndGlyphs">TREPPE /</text>
<text x="691.3" y="57.4" font-size="6.7" fill="#3a3a3a" stroke="#3a3a3a" stroke-width="0.2" textLength="92.5" lengthAdjust="spacingAndGlyphs">VERTIKALER RETTUNGSWEG</text>
<text x="691.3" y="70.0" font-size="6.7" fill="#3a3a3a" stroke="#3a3a3a" stroke-width="0.2" textLength="102.5" lengthAdjust="spacingAndGlyphs">HORIZONTALER RETTUNGSWEG</text>
<text x="691.3" y="79.9" font-size="6.7" fill="#3a3a3a" stroke="#3a3a3a" stroke-width="0.2" textLength="80.5" lengthAdjust="spacingAndGlyphs">RAUM MIT BESONDEREN</text>
<text x="691.3" y="87.1" font-size="6.7" fill="#3a3a3a" stroke="#3a3a3a" stroke-width="0.2" textLength="36" lengthAdjust="spacingAndGlyphs">GEFAHREN</text>
<use href="#iStairP" x="661.3" y="92.5" />
<text x="691.3" y="100.0" font-size="6.7" fill="#3a3a3a" stroke="#3a3a3a" stroke-width="0.2" textLength="76" lengthAdjust="spacingAndGlyphs">TREPPE, ERREICHBARE</text>
<text x="691.3" y="106.9" font-size="6.7" fill="#3a3a3a" stroke="#3a3a3a" stroke-width="0.2" textLength="84.5" lengthAdjust="spacingAndGlyphs">GESCHOSSE (GESCHÜTZT)</text>
<use href="#iStair" x="661.3" y="112.6" />
<text x="691.3" y="120.1" font-size="6.7" fill="#3a3a3a" stroke="#3a3a3a" stroke-width="0.2" textLength="76" lengthAdjust="spacingAndGlyphs">TREPPE, ERREICHBARE</text>
<text x="691.3" y="127.0" font-size="6.7" fill="#3a3a3a" stroke="#3a3a3a" stroke-width="0.2" textLength="94" lengthAdjust="spacingAndGlyphs">GESCHOSSE (UNGESCHÜTZT)</text>
<use href="#iD30" x="661.3" y="132.7" />
<text x="691.3" y="140.1" font-size="6.7" fill="#3a3a3a" stroke="#3a3a3a" stroke-width="0.2" textLength="76" lengthAdjust="spacingAndGlyphs">BRANDSCHUTZTÜR MIT</text>
<text x="691.3" y="147.0" font-size="6.7" fill="#3a3a3a" stroke="#3a3a3a" stroke-width="0.2" textLength="50" lengthAdjust="spacingAndGlyphs">QUALIFIKATION</text>
<use href="#iRwaB" x="661.3" y="152.8" />
<text x="691.3" y="160.2" font-size="6.7" fill="#3a3a3a" stroke="#3a3a3a" stroke-width="0.2" textLength="52.5" lengthAdjust="spacingAndGlyphs">RAUCHABZUGS-</text>
<text x="691.3" y="167.2" font-size="6.7" fill="#3a3a3a" stroke="#3a3a3a" stroke-width="0.2" textLength="49" lengthAdjust="spacingAndGlyphs">BEDIENSTELLE</text>
<use href="#iRwaE" x="661.3" y="173" />
<text x="691.3" y="185.7" font-size="6.7" fill="#3a3a3a" stroke="#3a3a3a" stroke-width="0.2" textLength="98.5" lengthAdjust="spacingAndGlyphs">RAUCHABZUGS-EINRICHTUNG</text>
<use href="#iZul" x="661.3" y="193.1" />
<text x="691.3" y="205.8" font-size="6.7" fill="#3a3a3a" stroke="#3a3a3a" stroke-width="0.2" textLength="91.5" lengthAdjust="spacingAndGlyphs">ZULUFTÖFFNUNG MANUELL</text>
<use href="#iKey" x="661.3" y="213.1" />
<text x="691.3" y="225.8" font-size="6.7" fill="#3a3a3a" stroke="#3a3a3a" stroke-width="0.2" textLength="84" lengthAdjust="spacingAndGlyphs">FEUERWEHRSCHLIEßUNG</text>
<use href="#iT90" x="661.3" y="233.2" />
<text x="691.3" y="245.9" font-size="6.7" fill="#3a3a3a" stroke="#3a3a3a" stroke-width="0.2" textLength="75.5" lengthAdjust="spacingAndGlyphs">BRANDSCHUTZTOR T90</text>
<use href="#iBW" x="661.3" y="253.2" />
<text x="691.3" y="265.9" font-size="6.7" fill="#3a3a3a" stroke="#3a3a3a" stroke-width="0.2" textLength="43.5" lengthAdjust="spacingAndGlyphs">BRANDWAND</text>
<use href="#iGas" x="661.5" y="273.3" />
<text x="691.3" y="285.1" font-size="6.7" fill="#3a3a3a" stroke="#3a3a3a" stroke-width="0.2" textLength="68" lengthAdjust="spacingAndGlyphs">GASHAUPTSCHIEBER</text>
<use href="#wGas" x="661" y="293.6" />
<text x="691.3" y="306.7" font-size="6.7" fill="#3a3a3a" stroke="#3a3a3a" stroke-width="0.2" textLength="86.5" lengthAdjust="spacingAndGlyphs">DRUCKLUFT/ SCHWEIßGAS</text>
<use href="#wFl" x="661" y="313.7" />
<text x="691.3" y="326.8" font-size="6.7" fill="#3a3a3a" stroke="#3a3a3a" stroke-width="0.2" textLength="94.5" lengthAdjust="spacingAndGlyphs">FEUERGEFÄHRLICHE STOFFE</text>
<use href="#wEl" x="661" y="333.7" />
<text x="691.3" y="341.7" font-size="6.7" fill="#3a3a3a" stroke="#3a3a3a" stroke-width="0.2" textLength="93" lengthAdjust="spacingAndGlyphs">GEFÄHRLICHE ELEKTRISCHE</text>
<text x="691.3" y="348.7" font-size="6.7" fill="#3a3a3a" stroke="#3a3a3a" stroke-width="0.2" textLength="37.5" lengthAdjust="spacingAndGlyphs">SPANNUNG</text>
<use href="#wEx" x="661" y="354" />
<text x="691.3" y="362.4" font-size="6.7" fill="#3a3a3a" stroke="#3a3a3a" stroke-width="0.2" textLength="64.5" lengthAdjust="spacingAndGlyphs">EXPLOSIONSFÄHIGE</text>
<text x="691.3" y="369.4" font-size="6.7" fill="#3a3a3a" stroke="#3a3a3a" stroke-width="0.2" textLength="45" lengthAdjust="spacingAndGlyphs">ATMOSPHÄRE</text>
<use href="#wHot" x="661" y="374.2" />
<text x="691.3" y="386.7" font-size="6.7" fill="#3a3a3a" stroke="#3a3a3a" stroke-width="0.2" textLength="74.5" lengthAdjust="spacingAndGlyphs">HEISSE OBERFLÄCHEN</text>
<path d="M665.8,393.8 l8.8,4.4 l-8.8,4.4 Z" fill="#111"/>
<text x="691.3" y="399.9" font-size="6.7" fill="#3a3a3a" stroke="#3a3a3a" stroke-width="0.2" textLength="30" lengthAdjust="spacingAndGlyphs">EINGANG</text>
<text x="666" y="434" font-size="3.9" fill="#555" textLength="45" lengthAdjust="spacingAndGlyphs">NAME UND ANSCHRIFT:</text>
<text x="666" y="474" font-size="3.9" fill="#555" textLength="49" lengthAdjust="spacingAndGlyphs">BAUTEIL / VERWENDUNG:</text>
<text x="666" y="494" font-size="3.9" fill="#555" textLength="56.5" lengthAdjust="spacingAndGlyphs">STOCKWERKSBEZEICHNUNG:</text>
<text x="666" y="514" font-size="3.9" fill="#555" textLength="44.5" lengthAdjust="spacingAndGlyphs">BEARBEITUNGSSTAND:</text>
<text x="666" y="534" font-size="3.9" fill="#555" textLength="30.5" lengthAdjust="spacingAndGlyphs">PLAN-NUMMER:</text>
<text x="666" y="555" font-size="3.9" fill="#555" textLength="22.5" lengthAdjust="spacingAndGlyphs">ERSTELLER:</text>
<text x="666" y="453" font-size="6.8" fill="#333" textLength="22" lengthAdjust="spacingAndGlyphs">Muster</text>
<text x="666.5" y="484.5" font-size="5" fill="#777" textLength="11.5" lengthAdjust="spacingAndGlyphs">- - - -</text>
<text x="666" y="505.3" font-size="7" font-weight="bold" fill="#222" textLength="41" lengthAdjust="spacingAndGlyphs">Erdgeschoss</text>
<text x="666" y="525.6" font-size="7" fill="#333" textLength="28.5" lengthAdjust="spacingAndGlyphs">11 | 2018</text>
<text x="666" y="545.6" font-size="7" font-weight="bold" fill="#222" textLength="40" lengthAdjust="spacingAndGlyphs">Blatt 3 von 4</text>
<rect x="698.3" y="558.8" width="4" height="5" fill="#d8121f"/><path d="M703.3,554.8 V568.2" stroke="#c01020" stroke-width="0.6"/><rect x="707.3" y="558.8" width="3.8" height="5" fill="#24407a"/>
<text x="721" y="564.6" font-size="9.6" fill="#2d4a8a" textLength="70.5" lengthAdjust="spacingAndGlyphs">physikbüro seeger</text>
</svg></body></html>
